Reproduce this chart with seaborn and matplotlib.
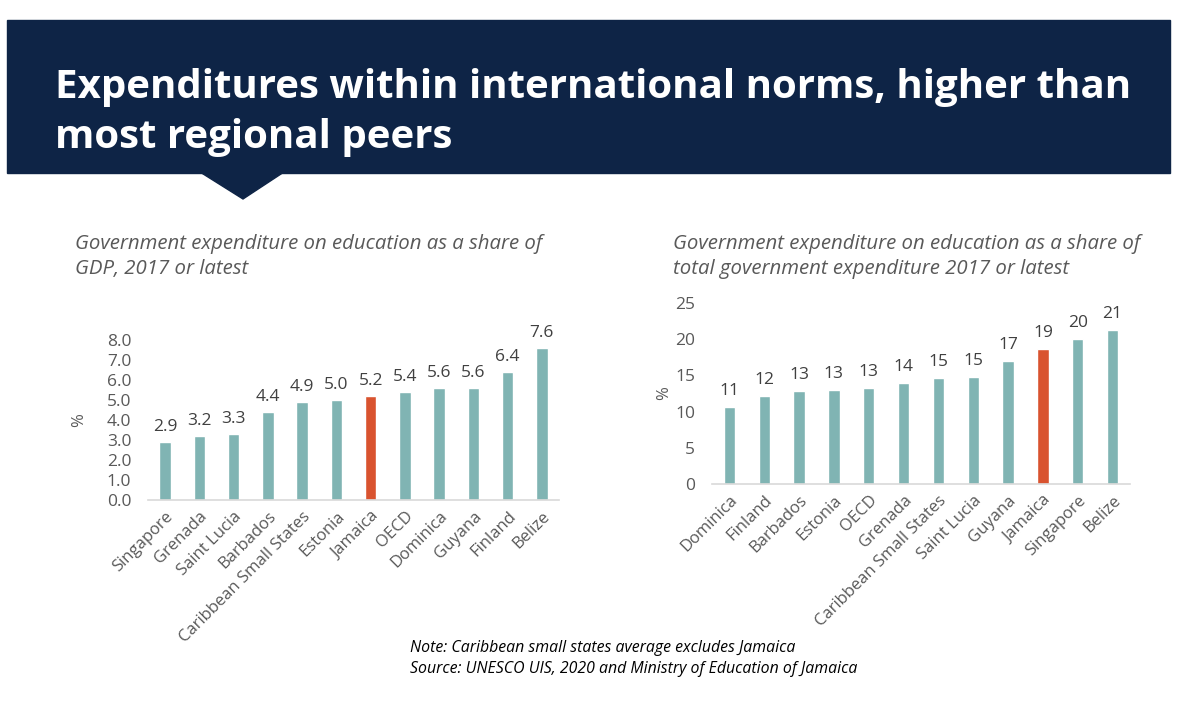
import matplotlib
matplotlib.use("Agg")
import matplotlib.pyplot as plt
import matplotlib.patches as mpatches
import pandas as pd
import seaborn as sns

# data
gdp_countries = ["Singapore", "Grenada", "Saint Lucia", "Barbados", "Caribbean Small States",
                 "Estonia", "Jamaica", "OECD", "Dominica", "Guyana", "Finland", "Belize"]
gdp_share = [2.9, 3.2, 3.3, 4.4, 4.9, 5.0, 5.2, 5.4, 5.6, 5.6, 6.4, 7.6]

tot_countries = ["Dominica", "Finland", "Barbados", "Estonia", "OECD", "Grenada",
                 "Caribbean Small States", "Saint Lucia", "Guyana", "Jamaica", "Singapore", "Belize"]
tot_share = [10.6, 12.2, 12.8, 13.0, 13.3, 14.0, 14.7, 14.8, 17.0, 18.6, 20.0, 21.3]

gdp_ticks = [0, 1, 2, 3, 4, 5, 6, 7, 8]
tot_ticks = [0, 5, 10, 15, 20, 25]

teal = "#80b4b3"
red = "#d9532f"
grey = "#595959"
navy = "#0e2446"

sns.set_style("white")
plt.rcParams["font.family"] = ["Open Sans", "DejaVu Sans"]

fig = plt.figure(figsize=(12, 7.05), dpi=100)

# title banner
fig.patches.append(mpatches.Rectangle((7 / 1200, 1 - 173 / 705), 1163 / 1200, 153 / 705,
                                      transform=fig.transFigure, color=navy, zorder=0))
fig.patches.append(mpatches.Polygon([(200 / 1200, 1 - 172 / 705), (284 / 1200, 1 - 172 / 705),
                                     (243 / 1200, 1 - 199 / 705)],
                                    transform=fig.transFigure, color=navy, zorder=0))
fig.text(55 / 1200, 1 - 98 / 705, "Expenditures within international norms, higher than",
         color="white", fontsize=29, fontweight="bold", va="baseline")
fig.text(55 / 1200, 1 - 148 / 705, "most regional peers",
         color="white", fontsize=29, fontweight="bold", va="baseline")


def draw(ax, countries, values, ticks, fmt, lab_fmt, pad, ypad):
    df = pd.DataFrame({"country": countries, "value": values})
    pal = {c: (red if c == "Jamaica" else teal) for c in countries}
    sns.barplot(data=df, x="country", y="value", hue="country", palette=pal,
                legend=False, width=0.33, ax=ax, saturation=1)
    for i, v in enumerate(values):
        ax.text(i, v + pad, lab_fmt.format(v), ha="center", va="bottom",
                fontsize=12.5, color="#404040", clip_on=False)
    ax.set_xlim(-0.5, len(countries) - 0.5)
    ax.set_ylim(0, ticks[-1])
    ax.set_yticks(ticks)
    ax.set_yticklabels([fmt.format(t) for t in ticks], fontsize=12.5, color=grey)
    ax.set_xticks(range(len(countries)))
    ax.set_xticklabels(countries, rotation=45, ha="right", rotation_mode="anchor",
                       fontsize=12, color=grey)
    ax.tick_params(axis="x", length=0, pad=6)
    ax.tick_params(axis="y", length=0, pad=12)
    ax.set_xlabel("")
    ax.set_ylabel("%", fontsize=12, color=grey, labelpad=ypad)
    for s in ["top", "right", "left"]:
        ax.spines[s].set_visible(False)
    ax.spines["bottom"].set_color("#d9d9d9")
    ax.spines["bottom"].set_linewidth(1.2)
    ax.set_facecolor("none")


ax1 = fig.add_axes([148 / 1200, 1 - 500 / 705, 411 / 1200, 160 / 705])
draw(ax1, gdp_countries, gdp_share, gdp_ticks, "{:.1f}", "{:.1f}", 0.35, 14)

ax2 = fig.add_axes([712 / 1200, 1 - 484 / 705, 418 / 1200, 181 / 705])
draw(ax2, tot_countries, tot_share, tot_ticks, "{:.0f}", "{:.0f}", 1.1, 2)

sub_kw = dict(fontsize=14.7, style="italic", color=grey)
fig.text(75 / 1200, 1 - 249 / 705, "Government expenditure on education as a share of", **sub_kw)
fig.text(75 / 1200, 1 - 274 / 705, "GDP, 2017 or latest", **sub_kw)
fig.text(673 / 1200, 1 - 249 / 705, "Government expenditure on education as a share of", **sub_kw)
fig.text(673 / 1200, 1 - 274 / 705, "total government expenditure 2017 or latest", **sub_kw)

fig.text(410 / 1200, 1 - 652 / 705, "Note: Caribbean small states average excludes Jamaica",
         fontsize=11.4, style="italic", color="black")
fig.text(410 / 1200, 1 - 673 / 705, "Source: UNESCO UIS, 2020 and Ministry of Education of Jamaica",
         fontsize=11.4, style="italic", color="black")

fig.savefig("out.png", dpi=100)
